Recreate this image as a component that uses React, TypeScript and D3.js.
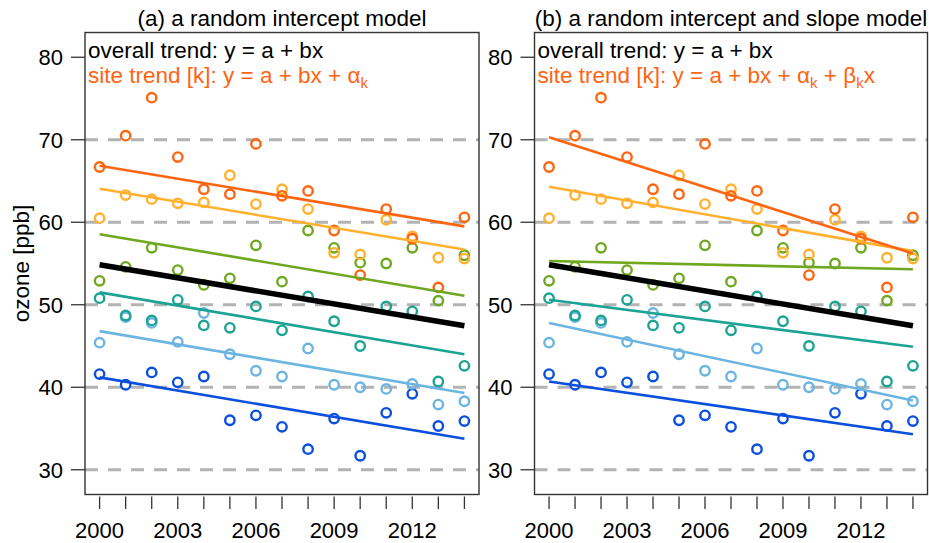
import * as d3 from 'd3';
import { useEffect } from 'react';

const W = 929;
const H = 543;

const years = [2000, 2001, 2002, 2003, 2004, 2005, 2006, 2007, 2008, 2009, 2010, 2011, 2012, 2013, 2014];
const yearLabels = [2000, 2003, 2006, 2009, 2012];
const yTicks = [30, 40, 50, 60, 70, 80];
const gridValues = [30, 40, 50, 60, 70];

// observed site means, ppb (one array per site)
const siteBlue = [41.6, 40.3, 41.8, 40.6, 41.3, 36.0, 36.6, 35.2, 32.5, 36.2, 31.7, 36.9, 39.2, 35.3, 35.9];
const siteLightBlue = [45.4, 48.5, 47.8, 45.5, 49.0, 44.0, 42.0, 41.3, 44.7, 40.3, 40.0, 39.8, 40.4, 37.9, 38.3];
const siteTeal = [50.8, 48.7, 48.1, 50.6, 47.5, 47.2, 49.8, 46.9, 51.0, 48.0, 45.0, 49.8, 49.2, 40.7, 42.6];
const siteGreen = [52.9, 54.6, 56.9, 54.2, 52.4, 53.2, 57.2, 52.8, 59.0, 56.9, 55.1, 55.0, 56.9, 50.5, 56.0];
const siteLightOrange = [60.5, 63.3, 62.8, 62.3, 62.4, 65.7, 62.2, 64.0, 61.6, 56.3, 56.1, 60.3, 58.3, 55.7, 55.6];
const siteDarkOrange = [66.7, 70.5, 75.1, 67.9, 64.0, 63.4, 69.5, 63.2, 63.8, 59.0, 53.6, 61.6, 58.0, 52.1, 60.6];

const siteColors = ['#0b4fdd', '#6cb5e1', '#1ca393', '#6fa820', '#ffb12f', '#ff6410'];
const siteSeries = [siteBlue, siteLightBlue, siteTeal, siteGreen, siteLightOrange, siteDarkOrange];

// fitted trends: value at 2000 and at 2014
const overallTrend = [54.85, 47.45];
const interceptTrends = [
    [41.2, 33.75],
    [46.8, 39.3],
    [51.5, 44.0],
    [58.55, 51.1],
    [64.06, 56.7],
    [66.85, 59.5],
];
const slopeTrends = [
    [40.7, 34.3],
    [47.8, 38.4],
    [50.6, 44.9],
    [55.3, 54.3],
    [64.3, 56.5],
    [70.3, 56.2],
];

const FONT = '"Liberation Sans", Arial, Helvetica, sans-serif';
const top = 32.5;
const bottom = 494.5;

type PanelProps = {
    left: number;
    right: number;
    title: string;
    trends: number[][];
    withSlope: boolean;
};

function Panel({ left, right, title, trends, withSlope }: PanelProps) {
    const x = d3.scaleLinear().domain([1999.44, 2014.56]).range([left, right]);
    const y = d3.scaleLinear().domain([27, 83]).range([bottom, top]);
    const line = d3
        .line<[number, number]>()
        .x((d) => x(d[0]))
        .y((d) => y(d[1]));
    const ends = [years[0], years[years.length - 1]];

    return (
        <g>
            <text x={(left + right) / 2} y={26} textAnchor="middle" fontSize={22.5} fill="#000">
                {title}
            </text>
            {gridValues.map((v) => (
                <line
                    key={v}
                    x1={left}
                    x2={right}
                    y1={y(v)}
                    y2={y(v)}
                    stroke="#b3b3b3"
                    strokeWidth={3}
                    strokeDasharray="13,10"
                />
            ))}
            {yTicks.map((v) => (
                <g key={v}>
                    <line x1={left - 14} x2={left} y1={y(v)} y2={y(v)} stroke="#333" strokeWidth={1.3} />
                    <text x={left - 22} y={y(v)} dy="0.36em" textAnchor="end" fontSize={22}>
                        {v}
                    </text>
                </g>
            ))}
            {years.map((yr) => (
                <line key={yr} x1={x(yr)} x2={x(yr)} y1={bottom + 2} y2={bottom + 14.5} stroke="#333" strokeWidth={1.3} />
            ))}
            {yearLabels.map((yr) => (
                <text key={yr} x={x(yr)} y={538} textAnchor="middle" fontSize={22}>
                    {yr}
                </text>
            ))}
            {siteSeries.map((vals, k) => (
                <g key={k}>
                    {vals.map((v, i) => (
                        <circle
                            key={i}
                            cx={x(years[i])}
                            cy={y(v)}
                            r={4.7}
                            fill="none"
                            stroke={siteColors[k]}
                            strokeWidth={2.4}
                        />
                    ))}
                </g>
            ))}
            {trends.map((t, k) => (
                <path
                    key={k}
                    d={line([
                        [ends[0], t[0]],
                        [ends[1], t[1]],
                    ]) ?? ''}
                    fill="none"
                    stroke={siteColors[k]}
                    strokeWidth={2.6}
                />
            ))}
            <path
                d={line([
                    [ends[0], overallTrend[0]],
                    [ends[1], overallTrend[1]],
                ]) ?? ''}
                fill="none"
                stroke="#000"
                strokeWidth={5.5}
            />
            <rect x={left} y={top} width={right - left} height={bottom - top} fill="none" stroke="#333" strokeWidth={1.4} />
            <text x={left + 3} y={57.5} fontSize={22.5} fill="#000">
                overall trend: y = a + bx
            </text>
            <text x={left + 3} y={83} fontSize={22.5} fill="#ff6410">
                site trend [k]: y = a + bx + α
                <tspan fontSize={15} dy={5}>k</tspan>
                {withSlope && (
                    <>
                        <tspan dy={-5}> + β</tspan>
                        <tspan fontSize={15} dy={5}>k</tspan>
                        <tspan dy={-5}>x</tspan>
                    </>
                )}
            </text>
        </g>
    );
}

export default function App() {
    useEffect(() => {
        document.body.style.margin = '0';
    }, []);

    return (
        <svg width={W} height={H} style={{ display: 'block', fontFamily: FONT, background: '#fff' }}>
            <text transform="translate(29,263.5) rotate(-90)" textAnchor="middle" fontSize={22.5}>
                ozone [ppb]
            </text>
            <Panel left={85} right={479} title="(a) a random intercept model" trends={interceptTrends} withSlope={false} />
            <Panel
                left={534.5}
                right={927.5}
                title="(b) a random intercept and slope model"
                trends={slopeTrends}
                withSlope={true}
            />
        </svg>
    );
}
